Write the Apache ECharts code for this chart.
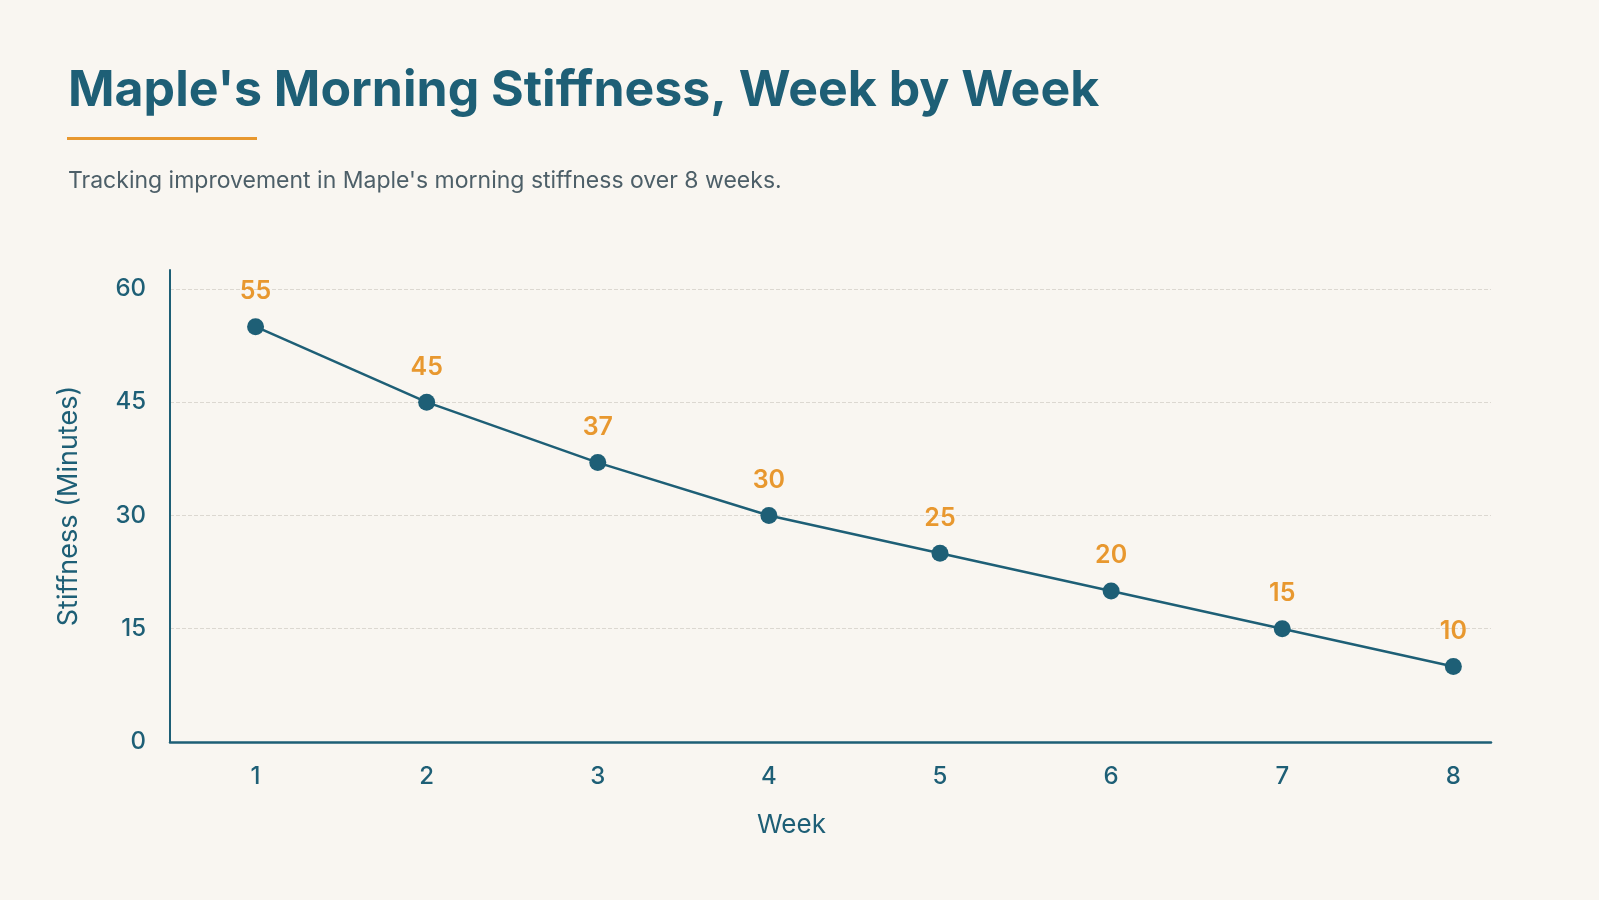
<!DOCTYPE html>
<html>
<head>
<meta charset="utf-8">
<title>Maple's Morning Stiffness</title>
<script src="https://cdn.jsdelivr.net/npm/echarts@6/dist/echarts.min.js"></script>
<style>
  html, body { margin: 0; padding: 0; background: #f9f6f1; }
  #main { width: 1599px; height: 900px; }
</style>
</head>
<body>
<div id="main"></div>
<script>
"use strict";

var weeks = [1, 2, 3, 4, 5, 6, 7, 8];
var stiffness = [55, 45, 37, 30, 25, 20, 15, 10];
var yTicks = [0, 15, 30, 45, 60];

var teal = '#1e5f76';
var orange = '#e8982f';
var font = 'Inter, "Noto Sans", sans-serif';

var myChart = echarts.init(document.getElementById('main'));

var seriesData = weeks.map(function (w, i) {
    return [w, stiffness[i]];
});

var option = {
    backgroundColor: '#f9f6f1',
    textStyle: { fontFamily: font },
    title: [
        {
            text: "Maple's Morning Stiffness, Week by Week",
            left: 63,
            top: 61,
            textStyle: {
                color: teal,
                fontSize: 50,
                fontWeight: 'bold',
                fontFamily: font
            }
        },
        {
            text: "Tracking improvement in Maple's morning stiffness over 8 weeks.",
            left: 63,
            top: 165,
            textStyle: {
                color: '#4d5f68',
                fontSize: 23,
                fontWeight: 'normal',
                fontFamily: font
            }
        }
    ],
    graphic: [
        {
            type: 'rect',
            left: 67,
            top: 137,
            shape: { width: 190, height: 3 },
            style: { fill: orange }
        }
    ],
    grid: {
        left: 170,
        right: 108,
        top: 270,
        bottom: 158
    },
    xAxis: {
        type: 'value',
        min: 0.5,
        max: 8.22,
        splitNumber: 8,
        name: 'Week',
        nameLocation: 'middle',
        nameGap: 70,
        nameTextStyle: {
            color: teal,
            fontSize: 26,
            padding: [0, 78, 0, 0]
        },
        axisLine: { show: true, lineStyle: { color: teal, width: 2.5 } },
        axisTick: { show: false },
        splitLine: { show: false },
        axisLabel: {
            color: teal,
            fontSize: 24,
            fontWeight: 500,
            margin: 23,
            showMinLabel: false,
            showMaxLabel: false,
            formatter: function (v) {
                return weeks.indexOf(v) >= 0 ? String(v) : '';
            }
        }
    },
    yAxis: {
        type: 'value',
        min: yTicks[0],
        max: 62.5,
        interval: 15,
        name: 'Stiffness (Minutes)',
        nameLocation: 'middle',
        nameGap: 88,
        nameTextStyle: {
            color: teal,
            fontSize: 27
        },
        axisLine: { show: true, lineStyle: { color: teal, width: 2 } },
        axisTick: { show: false },
        axisLabel: {
            color: teal,
            fontSize: 24,
            fontWeight: 500,
            margin: 24,
            showMaxLabel: false,
            formatter: function (v) {
                return yTicks.indexOf(v) >= 0 ? String(v) : '';
            }
        },
        splitLine: {
            show: true,
            showMaxLine: false,
            showMinLine: false,
            lineStyle: { color: '#dcd8d1', type: 'dashed', width: 1 }
        }
    },
    series: [
        {
            name: 'Stiffness',
            type: 'line',
            data: seriesData,
            symbol: 'circle',
            symbolSize: 17,
            lineStyle: { color: teal, width: 2.5 },
            itemStyle: { color: teal },
            label: {
                show: true,
                position: 'top',
                distance: 14,
                color: orange,
                fontSize: 25,
                fontWeight: 600,
                fontFamily: font,
                formatter: function (p) { return p.value[1]; }
            },
            animation: false
        }
    ]
};

myChart.setOption(option);
</script>
</body>
</html>
